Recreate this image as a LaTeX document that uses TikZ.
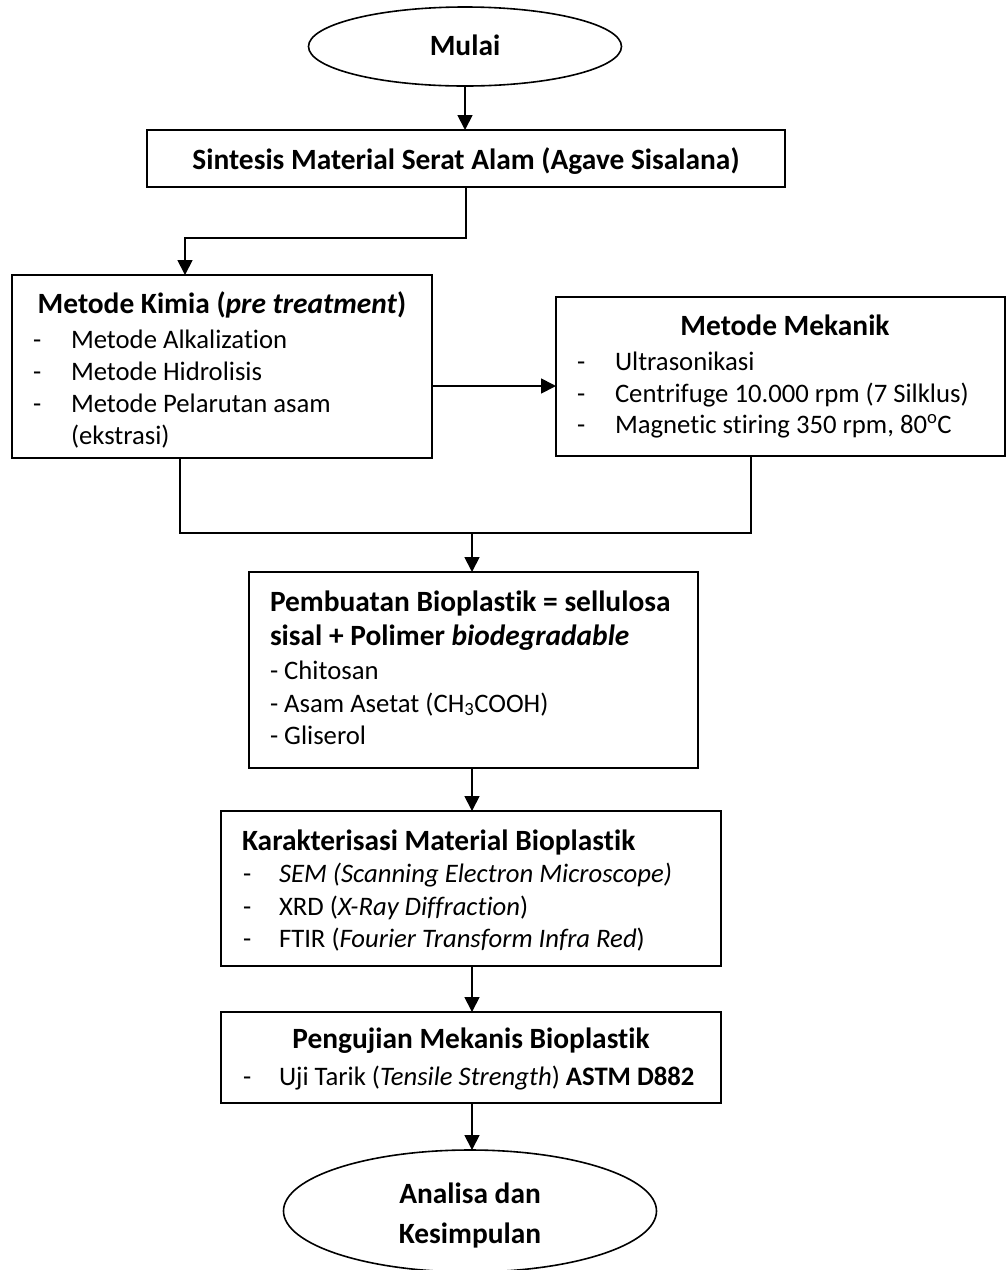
\documentclass[tikz,border=0pt]{standalone}
\usepackage{fontspec}
\setmainfont{Carlito}[Ligatures={NoCommon}]
\usetikzlibrary{arrows.meta,shapes.geometric}
\newcommand\regsz{\fontsize{26.7}{32}\selectfont}
\newcommand\bigbf{\fontsize{29.4}{34}\selectfont\bfseries}
\begin{document}
\begin{tikzpicture}[x=1pt,y=-1pt,
  every node/.style={inner sep=0pt, outer sep=0pt, font=\regsz},
  boxnode/.style={draw, line width=1.8pt, rectangle},
  ovalnode/.style={draw, line width=1.6pt, ellipse},
  txt/.style={anchor=base west},
  ctxt/.style={anchor=base},
  hd/.style={font=\bigbf},
  ln/.style={line width=1.8pt},
  arr/.style={line width=1.8pt, -{Triangle[length=15pt,width=15pt]}}]
\clip (0,0) rectangle (1007,1270);
\useasboundingbox (0,0) rectangle (1007,1270);

% shapes
\node[ovalnode, minimum width=313pt, minimum height=79pt] (mulai) at (465,46.5) {};
\node[boxnode, minimum width=638pt, minimum height=57pt] (sintesis) at (466,158.5) {};
\node[boxnode, minimum width=420pt, minimum height=183pt] (kimia) at (222,366.5) {};
\node[boxnode, minimum width=449pt, minimum height=159pt] (mekanik) at (780.5,376.5) {};
\node[boxnode, minimum width=449pt, minimum height=196pt] (pembuatan) at (473.5,670) {};
\node[boxnode, minimum width=500pt, minimum height=155pt] (karakter) at (471,888.5) {};
\node[boxnode, minimum width=500pt, minimum height=91pt] (pengujian) at (471,1057.5) {};
\node[ovalnode, minimum width=373pt, minimum height=122pt] (selesai) at (470,1211) {};

% texts
\node[ctxt, hd] (tmulai) at (465,55) {Mulai};
\node[ctxt, hd] (tsintesis) at (466,169) {Sintesis Material Serat Alam (Agave Sisalana)};

\node[ctxt, hd] (tkimia) at (222,313) {Metode Kimia (\textit{pre treatment})};
\node[txt] (kd1) at (33,348) {-};
\node[txt] (kt1) at (71,348) {Metode Alkalization};
\node[txt] (kd2) at (33,380) {-};
\node[txt] (kt2) at (71,380) {Metode Hidrolisis};
\node[txt] (kd3) at (33,412) {-};
\node[txt] (kt3) at (71,412) {Metode Pelarutan asam};
\node[txt] (kt4) at (71,444) {(ekstrasi)};

\node[ctxt, hd] (tmekanik) at (785,335) {Metode Mekanik};
\node[txt] (md1) at (577,370) {-};
\node[txt] (mt1) at (615,370) {Ultrasonikasi};
\node[txt] (md2) at (577,402) {-};
\node[txt] (mt2) at (615,402) {Centrifuge 10.000 rpm (7 Silklus)};
\node[txt] (md3) at (577,433) {-};
\node[txt] (mt3) at (615,433) {Magnetic stiring 350 rpm, 80\textsuperscript{o}C};

\node[txt, hd] (pt1) at (270,611) {Pembuatan Bioplastik = sellulosa};
\node[txt, hd] (pt2) at (270,645) {sisal + Polimer \textit{biodegradable}};
\node[txt] (pt3) at (270,679) {- Chitosan};
\node[txt] (pt4) at (270,712) {- Asam Asetat (CH\textsubscript{3}COOH)};
\node[txt] (pt5) at (270,744) {- Gliserol};

\node[txt, hd] (kkt) at (242,850) {Karakterisasi Material Bioplastik};
\node[txt] (kkd1) at (243,882) {-};
\node[txt] (kkt1) at (279,882) {\textit{SEM (Scanning Electron Microscope)}};
\node[txt] (kkd2) at (243,915) {-};
\node[txt] (kkt2) at (279,915) {XRD (\textit{X-Ray Diffraction})};
\node[txt] (kkd3) at (243,947) {-};
\node[txt] (kkt3) at (279,947) {FTIR (\textit{Fourier Transform Infra Red})};

\node[ctxt, hd] (tpengujian) at (471,1048) {Pengujian Mekanis Bioplastik};
\node[txt] (pgd1) at (243,1085) {-};
\node[txt] (pgt1) at (279,1085) {Uji Tarik (\textit{Tensile Strength}) \textbf{ASTM D882}};

\node[ctxt, hd] (tsel1) at (470,1203) {Analisa dan};
\node[ctxt, hd] (tsel2) at (470,1243) {Kesimpulan};

% connectors
\coordinate (c1) at (466,238);
\coordinate (c2) at (185,238);
\coordinate (cm) at (0,386);
\coordinate (jl) at (180,533);
\coordinate (jr) at (751,533);
\coordinate (jm) at (472,533);

\draw[arr] (mulai.south) -- (sintesis.north -| mulai.south);
\draw[arr] (sintesis.south -| c1) -- (c1) -- (c2) -- (kimia.north -| c2);
\draw[arr] (kimia.east |- cm) -- (mekanik.west |- cm);
\draw[ln] (kimia.south -| jl) -- (jl) -- (jr) -- (mekanik.south -| jr);
\draw[arr] (jm) -- (pembuatan.north -| jm);
\draw[arr] (pembuatan.south -| jm) -- (karakter.north -| jm);
\draw[arr] (karakter.south -| jm) -- (pengujian.north -| jm);
\draw[arr] (pengujian.south -| jm) -- (selesai.north -| jm);
\end{tikzpicture}
\end{document}
